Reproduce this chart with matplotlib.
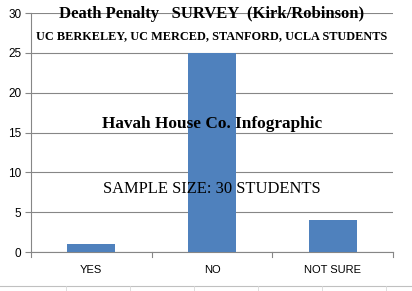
import matplotlib
matplotlib.use("Agg")
import matplotlib.pyplot as plt
from matplotlib.lines import Line2D

categories = ["YES", "NO", "NOT SURE"]
counts = [1, 25, 4]
y_ticks = [0, 5, 10, 15, 20, 25, 30]

BAR = "#4f81bd"
GRID = "#868686"

fig = plt.figure(figsize=(4.12, 2.91), dpi=100)
ax = fig.add_axes([0.075, 0.134, 0.879, 0.821])

x = list(range(len(categories)))
ax.bar(x, counts, width=0.4, color=BAR, zorder=3)
ax.set_xlim(-0.5, 2.5)
ax.set_ylim(0, 30)
ax.set_yticks(y_ticks)
ax.set_xticks(x)
ax.set_xticklabels(categories)
ax.yaxis.grid(True, color=GRID, linewidth=0.8, zorder=0)
for s in ["top", "right"]:
    ax.spines[s].set_visible(False)
for s in ["left", "bottom"]:
    ax.spines[s].set_color(GRID)
ax.tick_params(axis="x", length=0, labelsize=8, pad=9, colors="black")
ax.tick_params(axis="y", length=4, color=GRID, labelsize=8.5, pad=3)
for lab in ax.get_xticklabels() + ax.get_yticklabels():
    lab.set_family("Liberation Sans")
# category boundary ticks
for b in [-0.5, 0.5, 1.5, 2.5]:
    ax.plot([b, b], [0, -0.6], color=GRID, linewidth=0.8, clip_on=False)

serif = "Liberation Serif"
ax.text(0.5, 0.995, "Death Penalty   SURVEY  (Kirk/Robinson)", transform=ax.transAxes,
        ha="center", va="center", fontsize=12, fontweight="bold", family=serif)
ax.text(0.5, 0.905, "UC BERKELEY, UC MERCED, STANFORD, UCLA STUDENTS", transform=ax.transAxes,
        ha="center", va="center", fontsize=8.85, fontweight="bold", family=serif)
ax.text(0.5, 0.535, "Havah House Co. Infographic", transform=ax.transAxes,
        ha="center", va="center", fontsize=12.4, fontweight="bold", family=serif)
ax.text(0.5, 0.265, "SAMPLE SIZE: 30 STUDENTS", transform=ax.transAxes,
        ha="center", va="center", fontsize=11.9, family=serif)

# spreadsheet cell lines below the chart
yl = 1 - 286 / 291
fig.add_artist(Line2D([0, 1], [yl, yl], transform=fig.transFigure, color="#c0c0c0", linewidth=0.8))
for px in [66, 130, 194, 258, 322, 386]:
    fig.add_artist(Line2D([px / 412, px / 412], [0, yl], transform=fig.transFigure,
                          color="#d8d8d8", linewidth=0.6))

fig.savefig("out.png", dpi=100)
